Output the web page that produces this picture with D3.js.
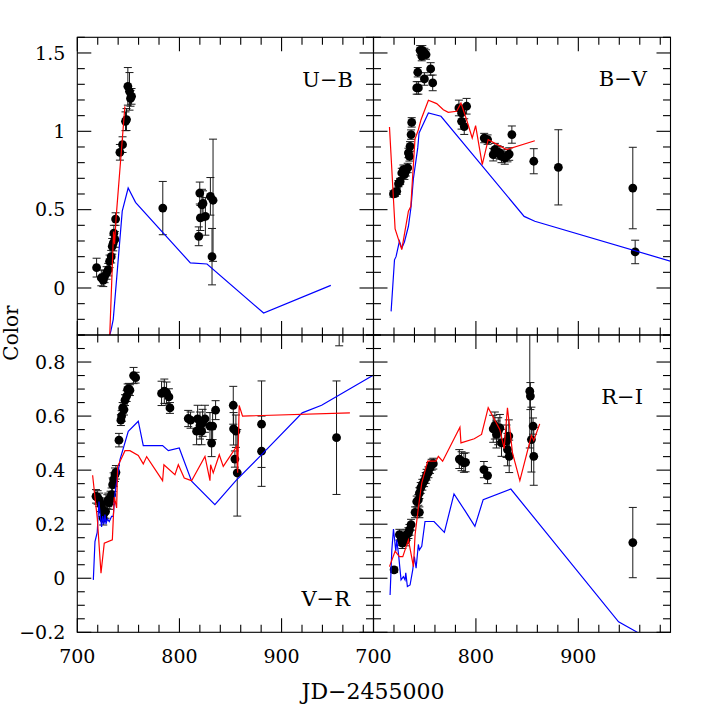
<!DOCTYPE html>
<html><head><meta charset="utf-8">
<script src="https://cdn.jsdelivr.net/npm/d3@7"></script>
<style>
body{margin:0;background:#fff}
svg{display:block}
text{font-family:"DejaVu Serif",serif;fill:#000}
</style>
</head><body>
<svg id="c" width="708" height="708"></svg>
<script>
// ---------------- DATA ----------------
const X_TICKS = [700, 800, 900];
const X_TICK_LABELS = ["700", "800", "900"];
const YU_TICKS = [0, 0.5, 1, 1.5];
const YU_TICK_LABELS = ["0", "0.5", "1", "1.5"];
const YD_TICKS = [-0.2, 0, 0.2, 0.4, 0.6, 0.8];
const YD_TICK_LABELS = ["\u22120.2", "0", "0.2", "0.4", "0.6", "0.8"];
const PANEL_NAMES = ["U\u2212B", "B\u2212V", "V\u2212R", "R\u2212I"];

// U-B observations
const JD_UB = [718.9, 723.5, 725.4, 726.7, 728.7, 730.3, 731.6, 733.2, 734.2, 735.2, 735.8, 736.8, 737.5, 741.7, 744.3, 747.2, 748.2, 749.5, 751.1, 752.1, 753.1, 783.7, 818.9, 819.9, 820.5, 822.1, 823.1, 825.4, 830.3, 831.9, 832.9];
const UB = [0.13, 0.064, 0.049, 0.074, 0.096, 0.117, 0.17, 0.20, 0.266, 0.287, 0.35, 0.31, 0.44, 0.866, 0.915, 1.064, 1.075, 1.287, 1.255, 1.21, 1.223, 0.51, 0.33, 0.606, 0.447, 0.53, 0.54, 0.457, 0.585, 0.20, 0.56];
const UB_ERR = [0.06, 0.05, 0.04, 0.04, 0.04, 0.04, 0.04, 0.04, 0.05, 0.05, 0.05, 0.05, 0.04, 0.05, 0.05, 0.06, 0.07, 0.12, 0.12, 0.05, 0.05, 0.17, 0.06, 0.07, 0.08, 0.10, 0.08, 0.12, 0.12, 0.18, 0.39];
const UB_RED_JD = [731.5, 735.5, 736.5, 738.0, 746.6];
const UB_RED = [-0.35, 0.36, 0.28, 0.45, 1.16];
const UB_BLUE_JD = [728.0, 733.0, 735.2, 744.0, 749.8, 757.0, 810.7, 827.0, 882.4, 948.2];
const UB_BLUE = [-0.40, -0.27, -0.20, 0.49, 0.638, 0.547, 0.16, 0.153, -0.16, 0.017];

// B-V observations
const JD_BV = [719.5, 721.0, 722.7, 724.4, 726, 727.6, 729.2, 730.2, 731.5, 733.4, 734.1, 735.1, 735.7, 736.7, 737.3, 742.2, 743.8, 743.2, 745.5, 747.1, 747.7, 749.7, 751.3, 749.7, 755.8, 757.8, 783.4, 786, 786, 788.6, 790.9, 808.1, 811.4, 816.9, 818.5, 821.1, 823.4, 825, 828.2, 830.8, 832.5, 835.1, 856.5, 880.5, 953.2, 955.5];
const BV = [0.60, 0.605, 0.617, 0.666, 0.68, 0.734, 0.755, 0.723, 0.745, 0.766, 0.862, 0.84, 0.904, 0.979, 1.057, 1.277, 1.277, 1.377, 1.517, 1.48, 1.517, 1.50, 1.49, 1.334, 1.398, 1.309, 1.149, 1.117, 1.064, 1.03, 1.16, 0.957, 0.947, 0.851, 0.883, 0.868, 0.862, 0.84, 0.83, 0.845, 0.855, 0.979, 0.809, 0.77, 0.638, 0.23];
const BV_ERR = [0.02, 0.02, 0.02, 0.02, 0.02, 0.03, 0.03, 0.03, 0.03, 0.03, 0.03, 0.03, 0.03, 0.03, 0.03, 0.04, 0.04, 0.03, 0.03, 0.03, 0.03, 0.03, 0.03, 0.04, 0.04, 0.05, 0.05, 0.05, 0.05, 0.05, 0.05, 0.03, 0.03, 0.04, 0.04, 0.04, 0.04, 0.04, 0.04, 0.04, 0.04, 0.055, 0.08, 0.24, 0.26, 0.075];
const BV_RED_JD = [715.6, 721.1, 727.6, 734.1, 736.4, 740.5, 743.8, 746.4, 753.6, 761.7, 768.2, 773, 781.2, 785.4, 790.9, 796.4, 799.7, 806.2, 812, 829.9, 857.5];
const BV_RED = [1.028, 0.377, 0.245, 0.49, 0.52, 0.95, 1.01, 1.074, 1.198, 1.177, 1.138, 1.121, 1.128, 1.18, 1.074, 0.957, 1.036, 0.787, 0.947, 0.883, 0.94];
const BV_BLUE_JD = [717.2, 720.5, 722, 725.3, 727.6, 730.2, 734.1, 736.7, 739, 743.2, 744.5, 753.6, 765.9, 847.1, 857.5, 990.6];
const BV_BLUE = [-0.149, 0.18, 0.2, 0.298, 0.255, 0.294, 0.394, 0.52, 0.7, 0.894, 0.99, 1.117, 1.096, 0.457, 0.426, 0.17];

// V-R observations
const JD_VR = [718.3, 719.9, 721.5, 723.2, 724.5, 725.4, 726.4, 727.7, 729.4, 730.3, 731.3, 732.6, 733.6, 734.6, 735.6, 736.9, 737.8, 740.8, 742.7, 743.4, 744.4, 745.7, 746.7, 748.3, 749.3, 750.6, 751.5, 755.1, 757.1, 782.5, 785.2, 787.4, 789.7, 790.7, 808.6, 810.9, 816.8, 817.8, 820.1, 821.7, 822.7, 825, 829.9, 831.5, 832.5, 835.4, 852.7, 853.0, 854.3, 855.3, 856.6, 880.4, 880.4, 953.8, 956.4];
const VR = [0.303, 0.299, 0.29, 0.272, 0.253, 0.222, 0.241, 0.247, 0.284, 0.29, 0.28, 0.297, 0.309, 0.346, 0.365, 0.383, 0.392, 0.511, 0.585, 0.60, 0.63, 0.624, 0.659, 0.674, 0.699, 0.701, 0.696, 0.75, 0.742, 0.684, 0.692, 0.686, 0.671, 0.63, 0.591, 0.585, 0.544, 0.59, 0.565, 0.544, 0.575, 0.59, 0.563, 0.50, 0.563, 0.622, 0.64, 0.553, 0.441, 0.544, 0.39, 0.57, 0.47, 0.52, 0.97];
const VR_ERR = [0.025, 0.025, 0.025, 0.025, 0.025, 0.025, 0.025, 0.025, 0.025, 0.025, 0.025, 0.025, 0.025, 0.025, 0.025, 0.025, 0.025, 0.025, 0.02, 0.02, 0.02, 0.02, 0.02, 0.02, 0.02, 0.02, 0.02, 0.03, 0.02, 0.045, 0.045, 0.04, 0.03, 0.02, 0.03, 0.03, 0.05, 0.05, 0.05, 0.05, 0.05, 0.05, 0.05, 0.05, 0.05, 0.035, 0.07, 0.06, 0.03, 0.06, 0.16, 0.16, 0.13, 0.21, 0.11];
const VR_RED_JD = [715, 719.6, 723.2, 726.4, 734.3, 736.2, 738.5, 739.5, 743.4, 746.7, 751.5, 759.7, 764.6, 767.9, 783.5, 784.8, 795.6, 798.9, 804.7, 811.9, 825, 829.9, 830.5, 833.1, 839, 842.9, 856, 857, 858.5, 861.8, 966.9];
const VR_RED = [0.381, 0.22, 0.019, 0.13, 0.142, 0.3, 0.26, 0.414, 0.445, 0.472, 0.472, 0.454, 0.423, 0.45, 0.361, 0.42, 0.383, 0.42, 0.371, 0.361, 0.451, 0.361, 0.42, 0.39, 0.457, 0.414, 0.488, 0.39, 0.639, 0.6, 0.612];
const VR_BLUE_JD = [715.7, 717.3, 719.5, 721.2, 722.2, 723.8, 724.8, 726.1, 727.1, 728.1, 729.4, 731.3, 733.6, 735.2, 736.9, 741.8, 749.9, 759.7, 764.6, 783.5, 789.1, 799.8, 811.9, 834.7, 855.3, 878.8, 920.2, 939.2, 989.7];
const VR_BLUE = [-0.006, 0.136, 0.17, 0.284, 0.24, 0.19, 0.23, 0.2, 0.236, 0.2, 0.22, 0.21, 0.229, 0.229, 0.315, 0.439, 0.544, 0.581, 0.491, 0.491, 0.472, 0.482, 0.359, 0.272, 0.361, 0.451, 0.612, 0.64, 0.751];

// R-I observations
const JD_RI = [720.1, 725.3, 726.9, 728.2, 729.2, 730.2, 731.5, 732.5, 734.1, 735.1, 736.7, 740.6, 744.8, 742.2, 743.8, 744.8, 746.1, 747.7, 749.4, 751, 751.9, 753.6, 755.2, 756.8, 758.4, 783.8, 786, 788.3, 789.9, 807.8, 811.4, 816.9, 818.5, 820.1, 821.8, 823.4, 825, 829.9, 830.8, 832.1, 832.5, 852.6, 853.2, 854.2, 855.8, 856.5, 953.2];
const RI = [0.031, 0.161, 0.142, 0.13, 0.148, 0.155, 0.14, 0.161, 0.167, 0.179, 0.198, 0.244, 0.244, 0.284, 0.29, 0.315, 0.334, 0.346, 0.359, 0.371, 0.383, 0.392, 0.408, 0.42, 0.424, 0.441, 0.433, 0.427, 0.429, 0.402, 0.38, 0.553, 0.565, 0.532, 0.544, 0.556, 0.501, 0.507, 0.476, 0.526, 0.451, 0.692, 0.674, 0.513, 0.563, 0.451, 0.132];
const RI_ERR = [0.01, 0.02, 0.02, 0.02, 0.02, 0.02, 0.02, 0.02, 0.02, 0.02, 0.02, 0.02, 0.02, 0.02, 0.02, 0.02, 0.02, 0.02, 0.02, 0.02, 0.02, 0.02, 0.02, 0.02, 0.02, 0.035, 0.035, 0.035, 0.035, 0.03, 0.03, 0.05, 0.05, 0.05, 0.05, 0.05, 0.05, 0.06, 0.06, 0.06, 0.06, 0.21, 0.05, 0.12, 0.03, 0.107, 0.13];
const RI_RED_JD = [715.6, 721.1, 725.3, 728.6, 734.1, 739, 740.6, 743.8, 747.1, 752.9, 761, 763.3, 767.5, 784.4, 785.4, 798.4, 805.5, 812, 823.4, 827.6, 830.8, 835.7, 842.9, 854.2, 856.5, 862.3];
const RI_RED = [0.043, 0.1, 0.08, 0.08, 0.142, 0.043, 0.161, 0.26, 0.352, 0.433, 0.433, 0.451, 0.433, 0.559, 0.501, 0.516, 0.532, 0.631, 0.55, 0.48, 0.631, 0.464, 0.361, 0.528, 0.51, 0.571];
const RI_BLUE_JD = [716.2, 717.9, 719.5, 721.8, 722.7, 724.4, 726.9, 729.2, 730.8, 731.5, 733.1, 735.7, 738.3, 739.9, 741.6, 743.8, 744.8, 747.1, 750.3, 759.1, 769.2, 778.6, 789.3, 799, 807.1, 834.1, 939.3, 957.5, 990];
const RI_BLUE = [-0.062, 0.105, 0.182, 0.1, 0.142, 0.09, -0.006, 0.006, -0.006, 0.02, -0.031, -0.025, 0.031, 0.08, 0.037, 0.125, 0.105, 0.118, 0.21, 0.21, 0.17, 0.312, 0.25, 0.192, 0.291, 0.33, -0.161, -0.2, -0.26];

// ---------------- LAYOUT ----------------
const svg = d3.select("#c");
const L = 77.3, M = 373.5, R = 670.5, T = 37.3, MID = 335, B = 632.3;
const X_DOMAIN = [700, 990];
const xLeft = d3.scaleLinear().domain(X_DOMAIN).range([L, M]);
const xRight = d3.scaleLinear().domain(X_DOMAIN).range([M, R]);
const yUp = d3.scaleLinear().domain([-0.3, 1.6]).range([MID, T]);
const yDown = d3.scaleLinear().domain([-0.2, 0.9]).range([B, MID]);

const panels = [
  {x: xLeft, y: yUp, name: PANEL_NAMES[0], jd: JD_UB, v: UB, e: UB_ERR,
   rj: UB_RED_JD, rv: UB_RED, bj: UB_BLUE_JD, bv: UB_BLUE,
   yMinor: d3.range(-0.3, 1.6001, 0.1), yMajor: YU_TICKS, yLabels: YU_TICK_LABELS, showY: true, showX: false,
   lab: [353, 87]},
  {x: xRight, y: yUp, name: PANEL_NAMES[1], jd: JD_BV, v: BV, e: BV_ERR,
   rj: BV_RED_JD, rv: BV_RED, bj: BV_BLUE_JD, bv: BV_BLUE,
   yMinor: d3.range(-0.3, 1.6001, 0.1), yMajor: YU_TICKS, yLabels: YU_TICK_LABELS, showY: false, showX: false,
   lab: [647, 86]},
  {x: xLeft, y: yDown, name: PANEL_NAMES[2], jd: JD_VR, v: VR, e: VR_ERR,
   rj: VR_RED_JD, rv: VR_RED, bj: VR_BLUE_JD, bv: VR_BLUE,
   yMinor: d3.range(-0.2, 0.9001, 0.05), yMajor: YD_TICKS, yLabels: YD_TICK_LABELS, showY: true, showX: true,
   lab: [350, 606]},
  {x: xRight, y: yDown, name: PANEL_NAMES[3], jd: JD_RI, v: RI, e: RI_ERR,
   rj: RI_RED_JD, rv: RI_RED, bj: RI_BLUE_JD, bv: RI_BLUE,
   yMinor: d3.range(-0.2, 0.9001, 0.05), yMajor: YD_TICKS, yLabels: YD_TICK_LABELS, showY: false, showX: true,
   lab: [643, 404]}
];

const xMinor = d3.range(700, 990, 20);
const MAJ = 14, MIN = 7.5;

panels.forEach((p, i) => {
  const [x0, x1] = p.x.range();
  const [y0, y1] = p.y.range(); // y0 bottom, y1 top
  const clipId = "clip" + i;
  svg.append("clipPath").attr("id", clipId).append("rect")
    .attr("x", x0).attr("y", y1).attr("width", x1 - x0).attr("height", y0 - y1);
  const g = svg.append("g").attr("clip-path", `url(#${clipId})`);

  const pts = p.jd.map((d, k) => ({jd: d, v: p.v[k], e: p.e[k]}));
  // error bars
  const eb = g.append("g").attr("stroke", "#1a1a1a").attr("stroke-width", 1).attr("fill", "none");
  pts.forEach(d => {
    const cx = p.x(d.jd), ya = p.y(d.v + d.e), yb = p.y(d.v - d.e);
    eb.append("line").attr("x1", cx).attr("x2", cx).attr("y1", ya).attr("y2", yb);
    eb.append("line").attr("x1", cx - 4).attr("x2", cx + 4).attr("y1", ya).attr("y2", ya);
    eb.append("line").attr("x1", cx - 4).attr("x2", cx + 4).attr("y1", yb).attr("y2", yb);
  });
  // dots
  g.append("g").selectAll("circle").data(pts).join("circle")
    .attr("cx", d => p.x(d.jd)).attr("cy", d => p.y(d.v)).attr("r", 4.4).attr("fill", "#000");

  // model lines
  const line = d3.line().x(d => p.x(d[0])).y(d => p.y(d[1]));
  g.append("path").attr("d", line(p.bj.map((d, k) => [d, p.bv[k]])))
    .attr("fill", "none").attr("stroke", "#0000ff").attr("stroke-width", 1.2);
  g.append("path").attr("d", line(p.rj.map((d, k) => [d, p.rv[k]])))
    .attr("fill", "none").attr("stroke", "#ff0000").attr("stroke-width", 1.2);

  // frame
  svg.append("rect").attr("x", x0).attr("y", y1).attr("width", x1 - x0).attr("height", y0 - y1)
    .attr("fill", "none").attr("stroke", "#000").attr("stroke-width", 1.1);

  const tk = svg.append("g").attr("stroke", "#000").attr("stroke-width", 1.1);
  const isMaj = (arr, v) => arr.some(m => Math.abs(m - v) < 1e-6);
  xMinor.forEach(v => {
    const len = isMaj(X_TICKS, v) ? MAJ : MIN;
    const xx = p.x(v);
    tk.append("line").attr("x1", xx).attr("x2", xx).attr("y1", y0).attr("y2", y0 - len);
    tk.append("line").attr("x1", xx).attr("x2", xx).attr("y1", y1).attr("y2", y1 + len);
  });
  p.yMinor.forEach(v => {
    const len = isMaj(p.yMajor, v) ? MAJ : MIN;
    const yy = p.y(v);
    tk.append("line").attr("x1", x0).attr("x2", x0 + len).attr("y1", yy).attr("y2", yy);
    tk.append("line").attr("x1", x1).attr("x2", x1 - len).attr("y1", yy).attr("y2", yy);
  });

  if (p.showY) {
    p.yMajor.forEach((v, k) => {
      svg.append("text").attr("x", x0 - 12).attr("y", p.y(v)).attr("dy", "0.36em")
        .attr("text-anchor", "end").attr("font-size", 19).text(p.yLabels[k]);
    });
  }
  if (p.showX) {
    X_TICKS.forEach((v, k) => {
      svg.append("text").attr("x", p.x(v)).attr("y", 663)
        .attr("text-anchor", "middle").attr("font-size", 19).text(X_TICK_LABELS[k]);
    });
  }
  svg.append("text").attr("x", p.lab[0]).attr("y", p.lab[1]).attr("text-anchor", "end")
    .attr("font-size", 21).text(p.name);
});

svg.append("text").attr("x", 373).attr("y", 699).attr("text-anchor", "middle")
  .attr("font-size", 22).text("JD\u22122455000");
svg.append("text").attr("transform", "translate(18,333) rotate(-90)").attr("text-anchor", "middle")
  .attr("font-size", 20).text("Color");
</script>
</body></html>
